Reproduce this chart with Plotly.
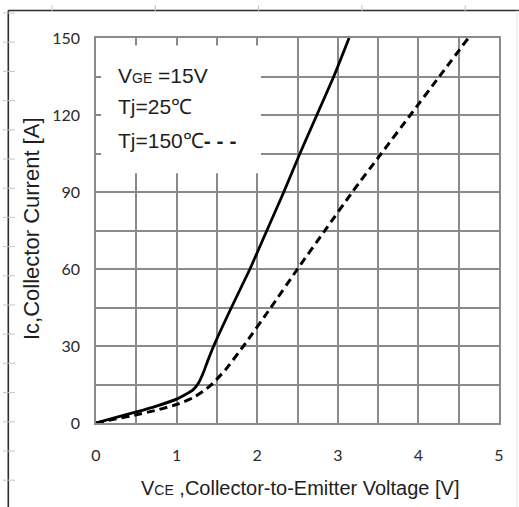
import plotly.graph_objects as go

# ---- data ----
vce_25 = [0, 0.25, 0.5, 0.75, 1.0, 1.2, 1.27, 1.33, 1.39, 1.46, 1.68, 1.91, 2.12, 2.33, 2.53, 2.74, 2.95, 3.14]
ic_25 = [0, 2.2, 4.3, 6.6, 9.3, 12.8, 15.5, 19.5, 24.5, 30, 45, 60, 75, 90, 105, 120, 135, 150]

vce_150 = [0, 0.25, 0.5, 0.75, 1.0, 1.2, 1.35, 1.45, 1.6, 1.83, 2.17, 2.50, 2.84, 3.18, 3.54, 3.90, 4.26, 4.62]
ic_150 = [0, 1.6, 3.2, 5.0, 7.2, 9.8, 12.8, 15.5, 20.5, 30, 45, 60, 75, 90, 105, 120, 135, 150]

x_ticks = [0, 1, 2, 3, 4, 5]
y_ticks = [0, 30, 60, 90, 120, 150]

W, H = 519, 507
L, R, T, B = 96, 20, 38, 84
PW, PH = W - L - R, H - T - B


def px(x):
    return (x - L) / PW


def py(y):
    return (H - B - y) / PH


GRID = "#8a8a8a"
TXT = "#1e1e1e"

fig = go.Figure()
fig.add_trace(go.Scatter(x=vce_25, y=ic_25, mode="lines",
                         line=dict(color="black", width=2.8, shape="spline", smoothing=0.5),
                         showlegend=False, hoverinfo="skip"))
fig.add_trace(go.Scatter(x=vce_150, y=ic_150, mode="lines",
                         line=dict(color="black", width=3, dash="8px,5px", shape="spline", smoothing=0.5),
                         showlegend=False, hoverinfo="skip"))

fig.update_layout(
    width=W, height=H,
    margin=dict(l=L, r=R, t=T, b=B, pad=0),
    paper_bgcolor="white", plot_bgcolor="white",
    xaxis=dict(range=[0, 5], tickvals=x_ticks, ticktext=[str(v) for v in x_ticks],
               showgrid=True, gridcolor=GRID, gridwidth=1.5,
               minor=dict(dtick=0.5, tick0=0, showgrid=True, gridcolor=GRID, gridwidth=1.5),
               showline=True, linecolor=GRID, linewidth=1.5, mirror=True,
               zeroline=False, ticks="", ticklabelstandoff=17,
               tickfont=dict(family="Lato, Open Sans, sans-serif", size=16, color="#2a2a2a"),
               fixedrange=True),
    yaxis=dict(range=[0, 150], tickvals=y_ticks, ticktext=[str(v) for v in y_ticks],
               showgrid=True, gridcolor=GRID, gridwidth=1.5,
               minor=dict(dtick=15, tick0=0, showgrid=True, gridcolor=GRID, gridwidth=1.5),
               showline=True, linecolor=GRID, linewidth=1.5, mirror=True,
               zeroline=False, ticks="", ticklabelstandoff=11,
               tickfont=dict(family="Lato, Open Sans, sans-serif", size=16, color="#2a2a2a"),
               fixedrange=True),
)

shapes = []
# white box behind the legend text (covers the grid)
shapes.append(dict(type="rect", xref="x", yref="y", x0=0.062, x1=2.047, y0=97.3, y1=147.1,
                   fillcolor="white", line=dict(width=0), layer="between"))
# outer frame (left and top) plus faint right edge
shapes.append(dict(type="line", xref="paper", yref="paper", x0=px(8.3), x1=px(8.3), y0=py(10.5), y1=py(507),
                   line=dict(color="#2b2b2b", width=1.6)))
shapes.append(dict(type="line", xref="paper", yref="paper", x0=px(8.3), x1=px(519), y0=py(10.5), y1=py(10.5),
                   line=dict(color="#2b2b2b", width=1.6)))
shapes.append(dict(type="line", xref="paper", yref="paper", x0=px(517), x1=px(517), y0=py(10.5), y1=py(507),
                   line=dict(color="#e4e4e4", width=1)))
# faint ruler marks outside the frame
for k in range(17):
    yy = 13 + 29.2 * k
    shapes.append(dict(type="line", xref="paper", yref="paper", x0=px(3), x1=px(15), y0=py(yy), y1=py(yy),
                       line=dict(color="#c4c4c4", width=1)))
for k in range(5):
    xx = 52 + 103.3 * k
    shapes.append(dict(type="line", xref="paper", yref="paper", x0=px(xx), x1=px(xx), y0=py(5), y1=py(11),
                       line=dict(color="#c4c4c4", width=1)))
fig.update_layout(shapes=shapes)

LEG_FONT = dict(family="Liberation Sans, Arial, sans-serif", size=21, color=TXT)
ann = [
    dict(text="V<span style='font-size:14px'>GE</span> =15V", x=px(116), y=py(75)),
    dict(text="Tj=25℃", x=px(116), y=py(107)),
    dict(text="Tj=150℃<b>- - -</b>", x=px(116), y=py(140)),
]
for a in ann:
    fig.add_annotation(xref="paper", yref="paper", xanchor="left", yanchor="middle",
                       showarrow=False, font=LEG_FONT, **a)

fig.add_annotation(xref="paper", yref="paper", x=px(300), y=py(488), xanchor="center", yanchor="middle",
                   showarrow=False, text="V<span style='font-size:14px'>CE</span> ,Collector-to-Emitter Voltage [V]",
                   font=dict(family="Liberation Sans, Arial, sans-serif", size=20, color=TXT))
fig.add_annotation(xref="paper", yref="paper", x=px(31), y=py(229), xanchor="center", yanchor="middle",
                   showarrow=False, textangle=-90, text="Ic,Collector Current [A]",
                   font=dict(family="Liberation Sans, Arial, sans-serif", size=22, color=TXT))

fig.write_html("out.html")
